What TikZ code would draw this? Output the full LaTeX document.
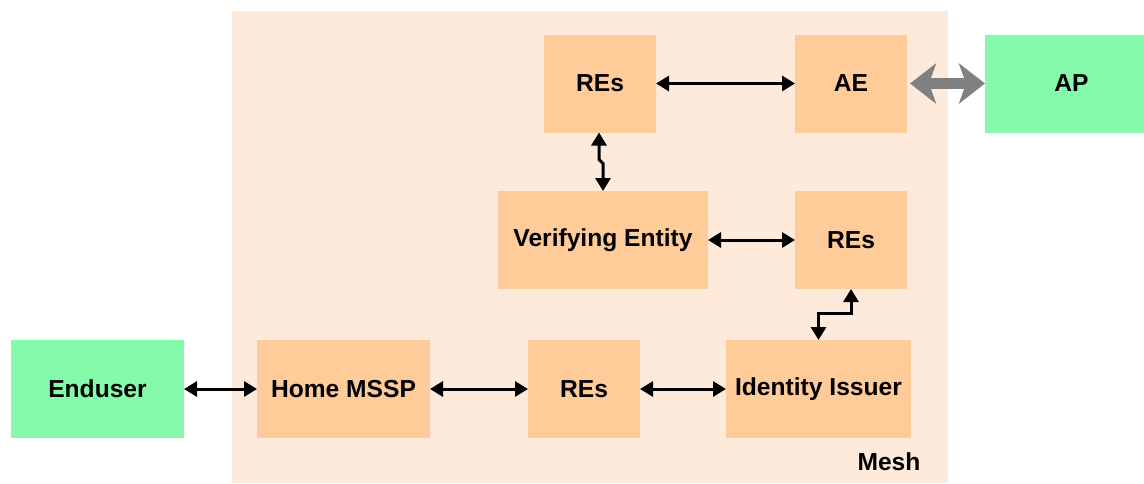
\documentclass[tikz,border=0pt]{standalone}
\usepackage{fontspec}
\setmainfont{Liberation Sans}
\usetikzlibrary{arrows.meta}
\definecolor{meshbg}{HTML}{FDEADA}
\definecolor{boxor}{HTML}{FFCC99}
\definecolor{boxgr}{HTML}{84FAAA}
\definecolor{arrgray}{HTML}{808080}
\begin{document}
\begin{tikzpicture}[x=0.5pt,y=-0.5pt,
  box/.style={fill=boxor, draw=none, inner sep=0pt, outer sep=0pt, minimum height=49pt, font=\fontsize{12.3}{14}\selectfont\bfseries},
  gbox/.style={box, fill=boxgr},
  arr/.style={line width=1.5pt, {Triangle[length=6.5pt,width=7.5pt]}-{Triangle[length=6.5pt,width=7.5pt]}},
  bigarr/.style={draw=arrgray, line width=5.5pt, {Stealth[length=13pt,width=20pt,inset=3.5pt]}-{Stealth[length=13pt,width=20pt,inset=3.5pt]}},
  lbl/.style={font=\fontsize{12.3}{14}\selectfont\bfseries}]
\useasboundingbox (0,0) rectangle (1144,483);
\fill[meshbg] (232,11) rectangle (948,483);
\node[lbl] (mesh) at (889,462) {Mesh};
\node[box, minimum width=56pt] (res1) at (600,83.5) {REs};
\node[box, minimum width=56pt] (ae) at (851,83.5) {AE};
\node[gbox, minimum width=79.5pt] (ap) at (1064.5,83.5) {\hspace*{7pt}AP};
\node[box, minimum width=105pt] (vent) at (603,240) {Verifying Entity};
\node[box, minimum width=56pt] (res2) at (851,240) {REs};
\node[gbox, minimum width=86.5pt] (enduser) at (97.5,389) {Enduser};
\node[box, minimum width=86.5pt] (home) at (343.5,389) {Home MSSP};
\node[box, minimum width=56pt] (res3) at (584,389) {REs};
\node[box, minimum width=92.5pt] (idiss) at (818.5,389) {Identity Issuer};
\draw[arr] (res1) -- (ae);
\draw[arr] (vent) -- (res2);
\draw[arr] (enduser) -- (home);
\draw[arr] (home) -- (res3);
\draw[arr] (res3) -- (idiss);
\draw[arr] ([xshift=-0.5pt]res1.south) -- ++(0,27) -- ++(4,4) -- (vent.north);
\draw[arr] (res2.south) -- ++(0,24) -| (idiss.north);
\draw[bigarr] ([xshift=1.5pt]ae.east) -- (ap.west);
\end{tikzpicture}
\end{document}
